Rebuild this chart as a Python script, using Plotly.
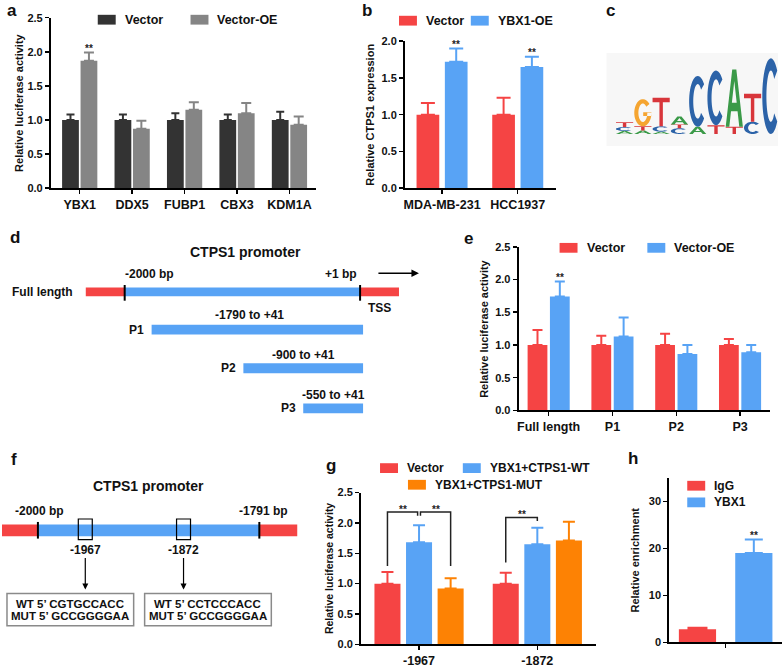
import plotly.graph_objects as go
import numpy as np

W, H = 782, 668
FONT = "Liberation Sans, Arial, sans-serif"

# ---------------- data ----------------
a_cats = ["YBX1", "DDX5", "FUBP1", "CBX3", "KDM1A"]
a_vec = [1.0, 1.0, 1.0, 1.0, 1.0]
a_vec_err = [0.08, 0.08, 0.10, 0.08, 0.12]
a_oe = [1.87, 0.87, 1.15, 1.10, 0.93]
a_oe_err = [0.12, 0.12, 0.11, 0.15, 0.12]

b_cats = ["MDA-MB-231", "HCC1937"]
b_vec = [1.0, 1.0]
b_vec_err = [0.16, 0.23]
b_oe = [1.72, 1.65]
b_oe_err = [0.18, 0.14]

e_cats = ["Full length", "P1", "P2", "P3"]
e_vec = [1.0, 1.0, 1.0, 1.0]
e_vec_err = [0.23, 0.14, 0.17, 0.09]
e_oe = [1.74, 1.13, 0.86, 0.89]
e_oe_err = [0.23, 0.29, 0.14, 0.11]

g_cats = ["-1967", "-1872"]
g_vec = [1.0, 1.0]
g_vec_err = [0.19, 0.18]
g_wt = [1.68, 1.65]
g_wt_err = [0.28, 0.27]
g_mut = [0.92, 1.71]
g_mut_err = [0.17, 0.31]

h_cats = [""]
h_igg = [2.8]
h_igg_err = [0.3]
h_ybx = [19.0]
h_ybx_err = [2.9]

# sequence logo (bottom -> top), heights in bits
logo_stacks = [
    [("A", 0.08), ("C", 0.10), ("T", 0.13)],
    [("A", 0.09), ("T", 0.11), ("G", 0.71)],
    [("A", 0.06), ("C", 0.14), ("T", 0.75)],
    [("C", 0.15), ("T", 0.10), ("A", 0.21)],
    [("A", 0.19), ("C", 1.33)],
    [("T", 0.23), ("C", 1.43)],
    [("T", 0.19), ("A", 1.50)],
    [("C", 0.32), ("T", 0.73)],
    [("C", 1.98)],
]

RED = "#f54444"
BLUE = "#58a3f5"
ORANGE = "#fd8204"
DARK = "#333333"
GRAY = "#858585"


def px(x):
    return x / W


def py(y):
    return 1 - y / H


fig = go.Figure()
shapes = []
annos = []


def txt(x, y, s, size=12, xanchor="center", yanchor="middle", color="#111", angle=0):
    annos.append(dict(x=px(x), y=py(y), xref="paper", yref="paper", text="<b>%s</b>" % s,
                      showarrow=False, xanchor=xanchor, yanchor=yanchor, textangle=angle,
                      font=dict(family=FONT, size=size, color=color)))


def prect(x0, y0, x1, y1, fill, lw=0, lc="black"):
    shapes.append(dict(type="rect", xref="paper", yref="paper", x0=px(x0), x1=px(x1),
                       y0=py(y1), y1=py(y0), fillcolor=fill,
                       line=dict(width=lw, color=lc)))


def pline(x0, y0, x1, y1, w=2, c="black"):
    shapes.append(dict(type="line", xref="paper", yref="paper", x0=px(x0), x1=px(x1),
                       y0=py(y0), y1=py(y1), line=dict(width=w, color=c)))


def legend_item(x0, yc, color, label, size=12.5):
    prect(x0, yc - 5, x0 + 18, yc + 5, color)
    txt(x0 + 25, yc, label, size=size, xanchor="left")


def bars(ax, vals, errs, color, offset, width, capw):
    n = len(vals)
    fig.add_trace(go.Bar(
        x=[i + offset for i in range(n)], y=vals, width=width,
        marker=dict(color=color, line=dict(width=0)),
        error_y=dict(type="data", array=errs, arrayminus=[0] * n, symmetric=False,
                     color=color, thickness=2, width=capw),
        xaxis="x" + ax, yaxis="y" + ax, showlegend=False, hoverinfo="skip"))


def stars(ax, x, y, shift=4):
    annos.append(dict(x=x, y=y, xref="x" + ax, yref="y" + ax, text="<b>**</b>", showarrow=False,
                      yanchor="middle", yshift=shift, font=dict(family=FONT, size=10, color="#222")))


axis_common = dict(showline=True, linecolor="black", linewidth=2, ticks="outside",
                   ticklen=4, tickwidth=1.5, tickcolor="black", showgrid=False, zeroline=False)

layout_axes = {}


def set_axes(ax, xd, yd, xr, yr, cats, ytick, ytxt, xfs=12.5):
    sx = "xaxis" + ("" if ax == "1" else ax)
    sy = "yaxis" + ("" if ax == "1" else ax)
    layout_axes[sx] = dict(axis_common, domain=[px(xd[0]), px(xd[1])], range=xr,
                           anchor="y" + ax, tickvals=list(range(len(cats))), ticktext=cats,
                           tickfont=dict(family=FONT, size=xfs, color="#111", weight="bold"),
                           fixedrange=True)
    layout_axes[sy] = dict(axis_common, domain=[py(yd[1]), py(yd[0])], range=yr,
                           anchor="x" + ax, tickvals=ytick, ticktext=ytxt,
                           tickfont=dict(family=FONT, size=11, color="#111", weight="bold"),
                           fixedrange=True)


# ---------------- panel a ----------------
bars("", a_vec, a_vec_err, DARK, -0.176, 0.32, 4)
bars("", a_oe, a_oe_err, GRAY, 0.176, 0.32, 5)
set_axes("1", (49, 315), (12, 186), [-0.55, 4.51], [0, 2.5], a_cats,
         [0, 0.5, 1, 1.5, 2, 2.5], ["0.0", "0.5", "1.0", "1.5", "2.0", "2.5"])
stars("", 0.176, a_oe[0] + a_oe_err[0])
txt(17, 99, "Relative luciferase activity", size=11, angle=-90)
legend_item(96, 14, DARK, "Vector")
legend_item(189, 14, GRAY, "Vector-OE")
txt(10, 5, "a", size=17)

# ---------------- panel b ----------------
bars("2", b_vec, b_vec_err, RED, -0.187, 0.30, 7)
bars("2", b_oe, b_oe_err, BLUE, 0.187, 0.30, 7)
set_axes("2", (404, 555), (36, 186), [-0.49, 1.5], [0, 2.0], b_cats,
         [0, 0.5, 1, 1.5, 2], ["0.0", "0.5", "1.0", "1.5", "2.0"])
stars("2", 0.187, b_oe[0] + b_oe_err[0])
stars("2", 1.187, b_oe[1] + b_oe_err[1])
txt(369, 111, "Relative CTPS1 expression", size=11, angle=-90)
legend_item(398, 15, RED, "Vector")
legend_item(470, 15, BLUE, "YBX1-OE")
txt(366, 5, "b", size=17)

# ---------------- panel c (sequence logo) ----------------
txt(610, 5, "c", size=17)
prect(606, 48, 778, 143, "#f7f7f7")
LOGO_COL = {"A": "#3b9a48", "C": "#2c63a8", "G": "#f5a531", "T": "#d8363b"}


def ring(a0, a1, tx=0.24, ty=0.16, n=36):
    th = np.linspace(np.radians(a0), np.radians(a1), n)
    outer = [(0.5 + 0.5 * np.cos(t), 0.5 + 0.5 * np.sin(t)) for t in th]
    inner = [(0.5 + (0.5 - tx) * np.cos(t), 0.5 + (0.5 - ty) * np.sin(t)) for t in th[::-1]]
    return outer + inner


GLYPH = {
    "T": [[(0, 1), (1, 1), (1, 0.84), (0.6, 0.84), (0.6, 0), (0.4, 0), (0.4, 0.84), (0, 0.84)]],
    "A": [[(0, 0), (0.38, 1), (0.62, 1), (1, 0), (0.79, 0), (0.69, 0.27), (0.31, 0.27), (0.21, 0)],
          [(0.36, 0.42), (0.64, 0.42), (0.5, 0.8)]],
    "C": [ring(42, 318)],
    "G": [ring(40, 360), [(0.52, 0.38), (1.0, 0.38), (1.0, 0.52), (0.52, 0.52)]],
}

for pos, stack in enumerate(logo_stacks, start=1):
    base = 0.0
    for letter, h in stack:
        x0, x1 = pos - 0.47, pos + 0.47
        path = ""
        for poly in GLYPH[letter]:
            pts = [(x0 + (x1 - x0) * u, base + h * v) for u, v in poly]
            path += "M" + " L".join("%.4f,%.4f" % p for p in pts) + " Z "
        shapes.append(dict(type="path", xref="x3", yref="y3", path=path,
                           fillcolor=LOGO_COL[letter], line=dict(width=0)))
        base += h

layout_axes["xaxis3"] = dict(domain=[px(615), px(780)], range=[0.5, 9.5], visible=False,
                             anchor="y3", fixedrange=True)
layout_axes["yaxis3"] = dict(domain=[py(130.7), py(52.7)], range=[0, 2], visible=False,
                             anchor="x3", fixedrange=True)
fig.add_trace(go.Scatter(x=[1], y=[0], mode="markers", marker=dict(opacity=0),
                         xaxis="x3", yaxis="y3", showlegend=False, hoverinfo="skip"))

# ---------------- panel d (schematic) ----------------
txt(13, 236, "d", size=17)
txt(244, 251, "CTPS1 promoter", size=14)
prect(84, 287.5, 123, 296.5, RED)
prect(123, 287.5, 359, 296.5, BLUE)
prect(359, 287.5, 398, 296.5, RED)
pline(123, 285, 123, 301)
pline(359, 285, 359, 301)
txt(73, 292, "Full length", size=12, xanchor="right")
txt(148, 274, "-2000 bp", size=12)
txt(340, 274, "+1 bp", size=12)
txt(378, 308, "TSS", size=12)
annos.append(dict(x=px(418), y=py(273), xref="paper", yref="paper", ax=-42, ay=0,
                  axref="pixel", ayref="pixel", showarrow=True, arrowhead=2, arrowsize=1,
                  arrowwidth=1.5, arrowcolor="black", text=""))
frag_rows = [(150, 330.5, "P1", 135, "-1790 to +41", 248, 316),
             (242, 370, "P2", 227, "-900 to +41", 302, 356),
             (302, 411, "P3", 287, "-550 to +41", 332, 397)]
for x0, yc, lab, lx, rng, rx, ry in frag_rows:
    prect(x0, yc - 5, 362, yc + 5, BLUE)
    txt(lx, yc, lab, size=12)
    txt(rx, ry, rng, size=12)

# ---------------- panel e ----------------
bars("4", e_vec, e_vec_err, RED, -0.175, 0.31, 5)
bars("4", e_oe, e_oe_err, BLUE, 0.175, 0.31, 5)
set_axes("4", (518, 770), (246, 413), [-0.47, 3.47], [0, 2.5], e_cats,
         [0, 0.5, 1, 1.5, 2, 2.5], ["0.0", "0.5", "1.0", "1.5", "2.0", "2.5"])
stars("4", 0.175, e_oe[0] + e_oe_err[0])
txt(483, 330, "Relative luciferase activity", size=11, angle=-90)
legend_item(559, 247, RED, "Vector")
legend_item(647, 247, BLUE, "Vector-OE")
txt(468, 237, "e", size=17)

# ---------------- panel f (schematic) ----------------
txt(12, 463, "f", size=17)
txt(147, 490, "CTPS1 promoter", size=14)
txt(38, 516, "-2000 bp", size=12)
txt(262, 516, "-1791 bp", size=12)
prect(0, 529.5, 36, 541.5, RED)
prect(36, 529.5, 258, 541.5, BLUE)
prect(258, 529.5, 296, 541.5, RED)
pline(36, 527, 36, 544)
pline(258, 527, 258, 544)
sites = [(83.5, "-1967", "WT 5\u2019 CGTGCCACC", "MUT 5\u2019 GCCGGGGAA", 5, 132),
         (182, "-1872", "WT 5\u2019 CCTCCCACC", "MUT 5\u2019 GCCGGGGAA", 143, 270)]
for sx, lab, wt, mut, bx0, bx1 in sites:
    prect(sx - 7, 524, sx + 7, 545, "rgba(0,0,0,0)", lw=1.2, lc="black")
    txt(sx, 556, lab, size=12)
    annos.append(dict(x=px(sx), y=py(596), xref="paper", yref="paper", ax=0, ay=-33,
                      axref="pixel", ayref="pixel", showarrow=True, arrowhead=2,
                      arrowsize=1, arrowwidth=1.2, arrowcolor="black", text=""))
    prect(bx0, 600, bx1, 633, "rgba(0,0,0,0)", lw=1.5, lc="#8a8a8a")
    txt((bx0 + bx1) / 2, 611, wt, size=11.5)
    txt((bx0 + bx1) / 2, 623, mut, size=11.5)

# ---------------- panel g ----------------
bars("5", g_vec, g_vec_err, RED, -0.267, 0.22, 6)
bars("5", g_wt, g_wt_err, BLUE, 0.0, 0.22, 6)
bars("5", g_mut, g_mut_err, ORANGE, 0.267, 0.22, 6)
set_axes("5", (360, 596), (497, 652), [-0.49, 1.5], [0, 2.5], g_cats,
         [0, 0.5, 1, 1.5, 2, 2.5], ["0.0", "0.5", "1.0", "1.5", "2.0", "2.5"])
# significance brackets: (x_left, x_right, y_top, y_left_end, y_right_end)
g_brackets = [(-0.267, -0.012, 2.18, 1.29, 2.12),
              (0.012, 0.267, 2.18, 2.12, 1.29),
              (0.733, 1.0, 2.09, 1.35, 2.03)]
for xl, xr, yt, yl, yr in g_brackets:
    fig.add_trace(go.Scatter(x=[xl, xl, xr, xr], y=[yl, yt, yt, yr], mode="lines",
                             line=dict(color="#222", width=1.5), xaxis="x5", yaxis="y5",
                             showlegend=False, hoverinfo="skip"))
    stars("5", (xl + xr) / 2, yt, shift=3)
txt(328, 575, "Relative luciferase activity", size=10.5, angle=-90)
legend_item(379, 472, RED, "Vector", size=12)
legend_item(462, 472, BLUE, "YBX1+CTPS1-WT", size=12)
legend_item(407, 489, ORANGE, "YBX1+CTPS1-MUT", size=12)
txt(330, 469, "g", size=17)

# ---------------- panel h ----------------
bars("6", h_igg, h_igg_err, RED, -0.25, 0.33, 10)
bars("6", h_ybx, h_ybx_err, BLUE, 0.25, 0.33, 9)
set_axes("6", (669, 782), (482, 650), [-0.5, 0.5], [0, 35], h_cats,
         [0, 10, 20, 30], ["0", "10", "20", "30"])
stars("6", 0.25, h_ybx[0] + h_ybx_err[0])
txt(635, 566, "Relative enrichment", size=11, angle=-90)
legend_item(687, 490, RED, "IgG", size=12)
legend_item(687, 507, BLUE, "YBX1", size=12)
txt(633, 462, "h", size=17)

fig.update_layout(
    width=W, height=H, autosize=False,
    margin=dict(l=0, r=0, t=0, b=0),
    paper_bgcolor="white", plot_bgcolor="white",
    barmode="overlay", showlegend=False,
    font=dict(family=FONT, size=11, color="#111", weight="bold"),
    shapes=shapes, annotations=annos,
    **layout_axes,
)
fig.write_html("out.html", config={"displayModeBar": False, "staticPlot": True},
               post_script="document.body.style.margin='0';document.body.style.overflow='hidden';")
